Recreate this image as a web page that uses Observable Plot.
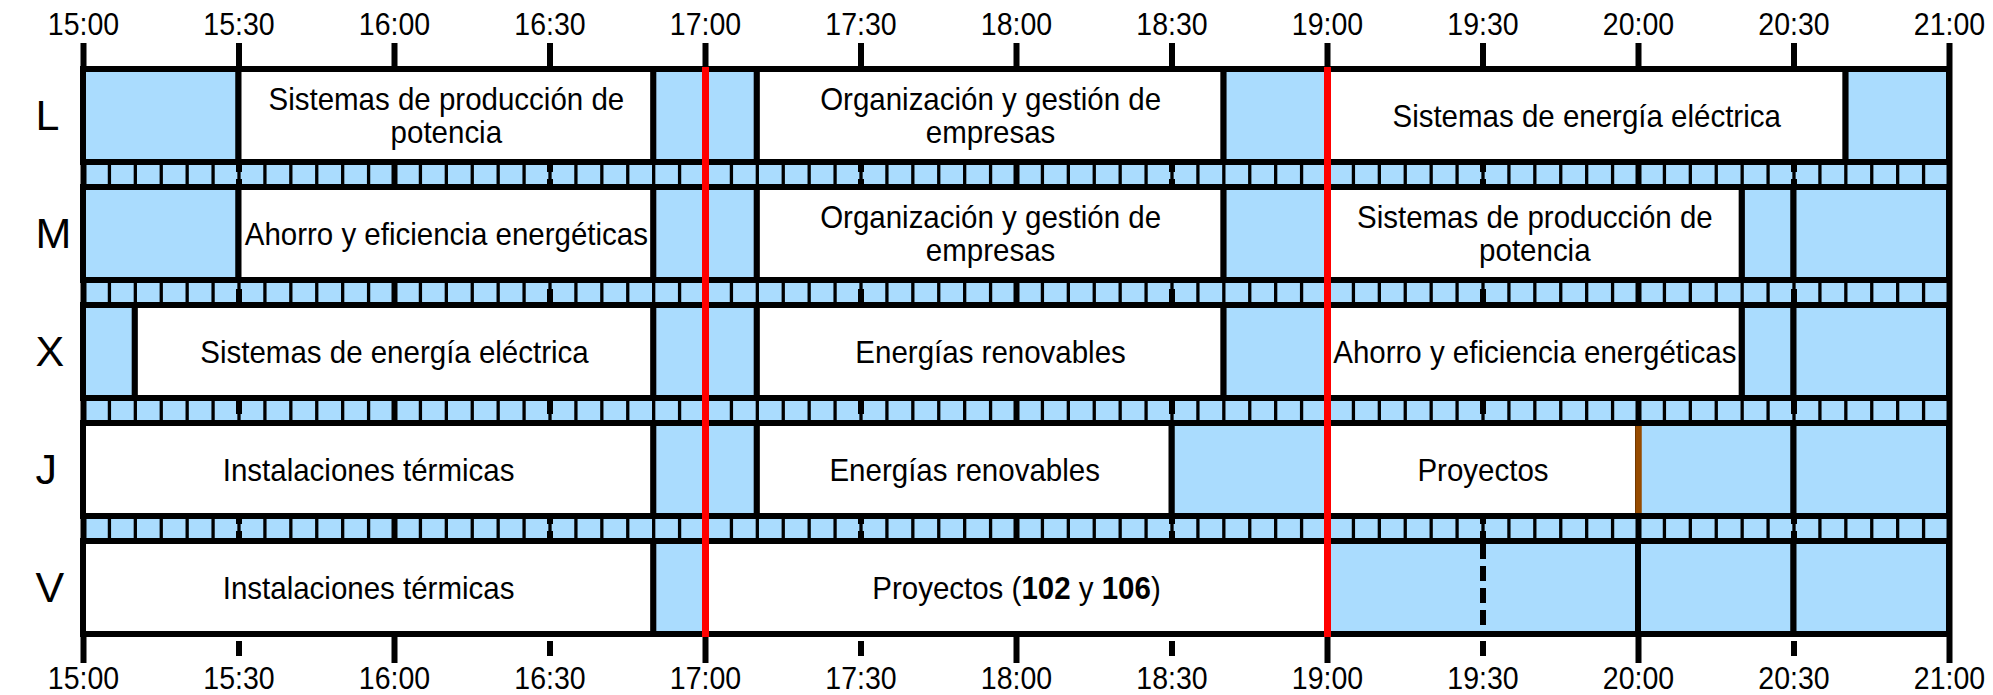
<!DOCTYPE html>
<html>
<head>
<meta charset="utf-8">
<script src="https://cdn.jsdelivr.net/npm/d3@7"></script>
<script src="https://cdn.jsdelivr.net/npm/@observablehq/plot@0.6"></script>
<style>
html, body { margin: 0; padding: 0; background: #fff; overflow: hidden; }
#chart svg { display: block; }
</style>
</head>
<body>
<div id="chart"></div>
<script>
// ---- Data ----
const rows = ["L", "M", "X", "J", "V"];
const tickLabels = ["15:00","15:30","16:00","16:30","17:00","17:30","18:00","18:30","19:00","19:30","20:00","20:30","21:00"];

// [start, end, subject] ; empty subject = free slot
const sessionsL = [
  ["15:00","15:30",""],
  ["15:30","16:50","Sistemas de producción de\npotencia"],
  ["16:50","17:10",""],
  ["17:10","18:40","Organización y gestión de\nempresas"],
  ["18:40","19:00",""],
  ["19:00","20:40","Sistemas de energía eléctrica"],
  ["20:40","21:00",""]
];
const sessionsM = [
  ["15:00","15:30",""],
  ["15:30","16:50","Ahorro y eficiencia energéticas"],
  ["16:50","17:10",""],
  ["17:10","18:40","Organización y gestión de\nempresas"],
  ["18:40","19:00",""],
  ["19:00","20:20","Sistemas de producción de\npotencia"],
  ["20:20","20:30",""],
  ["20:30","21:00",""]
];
const sessionsX = [
  ["15:00","15:10",""],
  ["15:10","16:50","Sistemas de energía eléctrica"],
  ["16:50","17:10",""],
  ["17:10","18:40","Energías renovables"],
  ["18:40","19:00",""],
  ["19:00","20:20","Ahorro y eficiencia energéticas"],
  ["20:20","20:30",""],
  ["20:30","21:00",""]
];
const sessionsJ = [
  ["15:00","16:50","Instalaciones térmicas"],
  ["16:50","17:10",""],
  ["17:10","18:30","Energías renovables"],
  ["18:30","19:00",""],
  ["19:00","20:00","Proyectos"],
  ["20:00","20:30",""],
  ["20:30","21:00",""]
];
const sessionsV = [
  ["15:00","16:50","Instalaciones térmicas"],
  ["16:50","17:00",""],
  ["17:00","19:00","Proyectos (102 y 106)"],
  ["19:00","20:00",""],
  ["20:00","20:30",""],
  ["20:30","21:00",""]
];
const redLines = ["17:00","19:00"];
const brownLines = [["J","20:00"]];
const dashedSplits = [["V","19:30"]];
const boldParts = ["102","106"];

// ---- Build ----
const BLUE = "#aadcfe";
const toMin = s => { const [h, m] = s.split(":").map(Number); return h * 60 + m; };
const blocks = [];
[["L", sessionsL], ["M", sessionsM], ["X", sessionsX], ["J", sessionsJ], ["V", sessionsV]]
  .forEach(([r, list]) => list.forEach(([a, b, t]) => blocks.push({row: r, x1: toMin(a), x2: toMin(b), label: t})));
const courses = blocks.filter(d => d.label);
const free = blocks.filter(d => !d.label);
const tickMin = tickLabels.map(toMin);
const hourTicks = tickMin.filter(m => m % 60 === 0);
const halfTicks = tickMin.filter(m => m % 60 !== 0);
const xMin = tickMin[0], xMax = tickMin[tickMin.length - 1];
const dividers = d3.range(xMin + 5, xMax, 5);

const plot = Plot.plot({
  width: 1993,
  height: 695,
  marginLeft: 83,
  marginRight: 44,
  marginTop: 69,
  marginBottom: 60,
  x: {domain: [xMin, xMax], axis: null},
  y: {type: "band", domain: rows, paddingInner: 0.21, paddingOuter: 0, axis: null},
  style: {fontFamily: "'Liberation Sans', Arial, Helvetica, sans-serif", background: "white", color: "black", overflow: "visible"},
  marks: [
    Plot.frame({fill: BLUE, stroke: null}),
    Plot.ruleX(dividers, {stroke: "black", strokeWidth: 3.3}),
    Plot.ruleX(hourTicks, {stroke: "black", strokeWidth: 6, insetTop: -26, insetBottom: -28}),
    Plot.ruleX(halfTicks, {stroke: "black", strokeWidth: 6, insetTop: -26, insetBottom: 566}),
    Plot.ruleX(halfTicks, {stroke: "black", strokeWidth: 6, insetBottom: -28, strokeDasharray: "15,7"}),
    Plot.barX(free, {x1: "x1", x2: "x2", y: "row", fill: BLUE, stroke: "black", strokeWidth: 6}),
    Plot.barX(courses, {x1: "x1", x2: "x2", y: "row", fill: "white", stroke: "black", strokeWidth: 6}),
    Plot.tickX(dashedSplits, {x: d => toMin(d[1]), y: d => d[0], stroke: "black", strokeWidth: 6, strokeDasharray: "15,7", insetTop: 3, insetBottom: 3}),
    Plot.tickX(brownLines, {x: d => toMin(d[1]), y: d => d[0], stroke: "#964b00", strokeWidth: 6.5, insetTop: 3, insetBottom: 3}),
    Plot.ruleX(redLines.map(toMin), {stroke: "#ff0000", strokeWidth: 7, insetTop: -2, insetBottom: -2}),
    Plot.text(courses, {x: d => (d.x1 + d.x2) / 2, y: "row", text: "label", fontSize: 29.5, lineHeight: 1.03, fill: "black"}),
    Plot.text(rows, {y: d => d, text: d => d, frameAnchor: "left", dx: -48, fontSize: 43, fill: "black"}),
    Plot.text(tickLabels, {x: toMin, text: d => d, frameAnchor: "top", dy: -35, lineAnchor: "bottom", fontSize: 28.5, fill: "black"}),
    Plot.text(tickLabels, {x: toMin, text: d => d, frameAnchor: "bottom", dy: 53, lineAnchor: "bottom", fontSize: 28.5, fill: "black"})
  ]
});
document.getElementById("chart").appendChild(plot);

// Bold the project numbers inside "Proyectos (102 y 106)"
const NS = "http://www.w3.org/2000/svg";
plot.querySelectorAll("text").forEach(t => {
  if (t.textContent === "Proyectos (102 y 106)" && t.children.length === 0) {
    const full = t.textContent;
    t.textContent = "";
    const re = new RegExp("(" + boldParts.join("|") + ")");
    full.split(re).forEach(part => {
      if (!part) return;
      const ts = document.createElementNS(NS, "tspan");
      ts.textContent = part;
      if (boldParts.includes(part)) ts.setAttribute("font-weight", "bold");
      t.appendChild(ts);
    });
  }
});

// The original lettering is slightly taller than wide: stretch text vertically a little
const STRETCH = 1.08;
plot.querySelectorAll("text").forEach(t => {
  if (rows.includes(t.textContent)) return;
  const tr = t.getAttribute("transform");
  if (tr) {
    t.setAttribute("transform", tr + ` scale(1,${STRETCH})`);
  } else {
    const x = +(t.getAttribute("x") || 0), y = +(t.getAttribute("y") || 0);
    t.removeAttribute("x"); t.removeAttribute("y");
    t.setAttribute("transform", `translate(${x},${y}) scale(1,${STRETCH})`);
  }
});
</script>
</body>
</html>
